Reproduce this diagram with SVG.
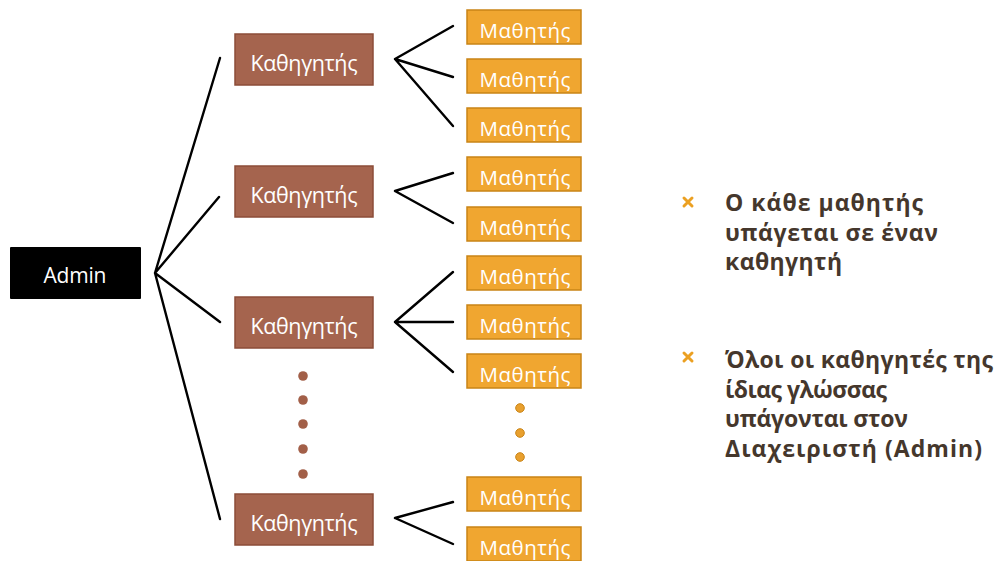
<svg xmlns="http://www.w3.org/2000/svg" width="999" height="561" viewBox="0 0 999 561">
<style>
.t{fill:#A5644E;stroke:#8C4C38;stroke-width:1.5}
.s{fill:#F0A630;stroke:#C98416;stroke-width:1.5}
.a{fill:#000}
.lbl{font-family:"Open Sans","Noto Sans",sans-serif;fill:#fff;text-anchor:middle}
.tl{font-size:21.5px}
.sl{font-size:20.5px}
.al{font-size:21px}
.c{stroke:#000;stroke-width:2.4;fill:none;stroke-linecap:round}
.note{font-family:"Open Sans","Noto Sans",sans-serif;font-weight:bold;font-size:23px;fill:#45372C}
.bul{stroke:#EBA022;stroke-width:3;stroke-linecap:round}
.bd{fill:#A25F48}
.od{fill:#E9A02E;stroke:#C98416;stroke-width:1}
</style>
<rect width="999" height="561" fill="#fff"/>
<g id="connectors">
<path class="c" d="M155 273 L220 58 M155 273 L219 197 M155 273 L220 322 M155 273 L220 519"/>
<path class="c" d="M395 59 L453 26 M395 59 L453 77 M395 59 L453 126"/>
<path class="c" d="M395 191 L453 173 M395 191 L453 223"/>
<path class="c" d="M395 322 L453 272 M395 322 L453 322 M395 322 L453 372"/>
<path class="c" d="M395 518 L453 502 M395 518 L453 544"/>
</g>
<g id="admin"><rect class="a" x="10" y="247" width="131" height="52" rx="1"/><text class="lbl al" x="75" y="283" textLength="63">Admin</text></g>
<g id="teacher1"><rect class="t" x="235" y="34" width="138" height="51"/><text class="lbl tl" x="304" y="71" textLength="107">Καθηγητής</text></g>
<g id="teacher2"><rect class="t" x="235" y="166" width="138" height="51"/><text class="lbl tl" x="304" y="203" textLength="107">Καθηγητής</text></g>
<g id="teacher3"><rect class="t" x="235" y="297" width="138" height="51"/><text class="lbl tl" x="304" y="334" textLength="107">Καθηγητής</text></g>
<g id="teacher4"><rect class="t" x="235" y="494" width="138" height="51"/><text class="lbl tl" x="304" y="531" textLength="107">Καθηγητής</text></g>
<g id="student1"><rect class="s" x="467" y="10" width="114" height="34"/><text class="lbl sl" x="525" y="38" textLength="91">Μαθητής</text></g>
<g id="student2"><rect class="s" x="467" y="59" width="114" height="34"/><text class="lbl sl" x="525" y="87" textLength="91">Μαθητής</text></g>
<g id="student3"><rect class="s" x="467" y="108" width="114" height="34"/><text class="lbl sl" x="525" y="136" textLength="91">Μαθητής</text></g>
<g id="student4"><rect class="s" x="467" y="157" width="114" height="34"/><text class="lbl sl" x="525" y="185" textLength="91">Μαθητής</text></g>
<g id="student5"><rect class="s" x="467" y="207" width="114" height="34"/><text class="lbl sl" x="525" y="235" textLength="91">Μαθητής</text></g>
<g id="student6"><rect class="s" x="467" y="256" width="114" height="34"/><text class="lbl sl" x="525" y="284" textLength="91">Μαθητής</text></g>
<g id="student7"><rect class="s" x="467" y="305" width="114" height="34"/><text class="lbl sl" x="525" y="333" textLength="91">Μαθητής</text></g>
<g id="student8"><rect class="s" x="467" y="354" width="114" height="34"/><text class="lbl sl" x="525" y="382" textLength="91">Μαθητής</text></g>
<g id="student9"><rect class="s" x="467" y="477" width="114" height="34"/><text class="lbl sl" x="525" y="505" textLength="91">Μαθητής</text></g>
<g id="student10"><rect class="s" x="467" y="527" width="114" height="34"/><text class="lbl sl" x="525" y="555" textLength="91">Μαθητής</text></g>
<g id="teacher-dots">
<circle class="bd" cx="303" cy="376" r="4.8"/><circle class="bd" cx="303" cy="400" r="4.8"/><circle class="bd" cx="303" cy="424" r="4.8"/><circle class="bd" cx="303" cy="449" r="4.8"/><circle class="bd" cx="303" cy="474" r="4.8"/>
</g>
<g id="student-dots">
<circle class="od" cx="520" cy="408" r="4.3"/><circle class="od" cx="520" cy="433" r="4.3"/><circle class="od" cx="520" cy="457" r="4.3"/>
</g>
<g id="notes">
<path class="bul" d="M684 198 L692 206 M692 198 L684 206"/>
<path class="bul" d="M684 353 L692 361 M692 353 L684 361"/>
<text class="note" x="725" y="211" textLength="198">Ο κάθε μαθητής</text>
<text class="note" x="725" y="241" textLength="213">υπάγεται σε έναν</text>
<text class="note" x="725" y="270" textLength="117">καθηγητή</text>
<text class="note" x="725" y="368" textLength="268">Όλοι οι καθηγητές της</text>
<text class="note" x="725" y="398" textLength="162">ίδιας γλώσσας</text>
<text class="note" x="725" y="427" textLength="183">υπάγονται στον</text>
<text class="note" x="725" y="457" textLength="257">Διαχειριστή (Admin)</text>
</g>
</svg>
